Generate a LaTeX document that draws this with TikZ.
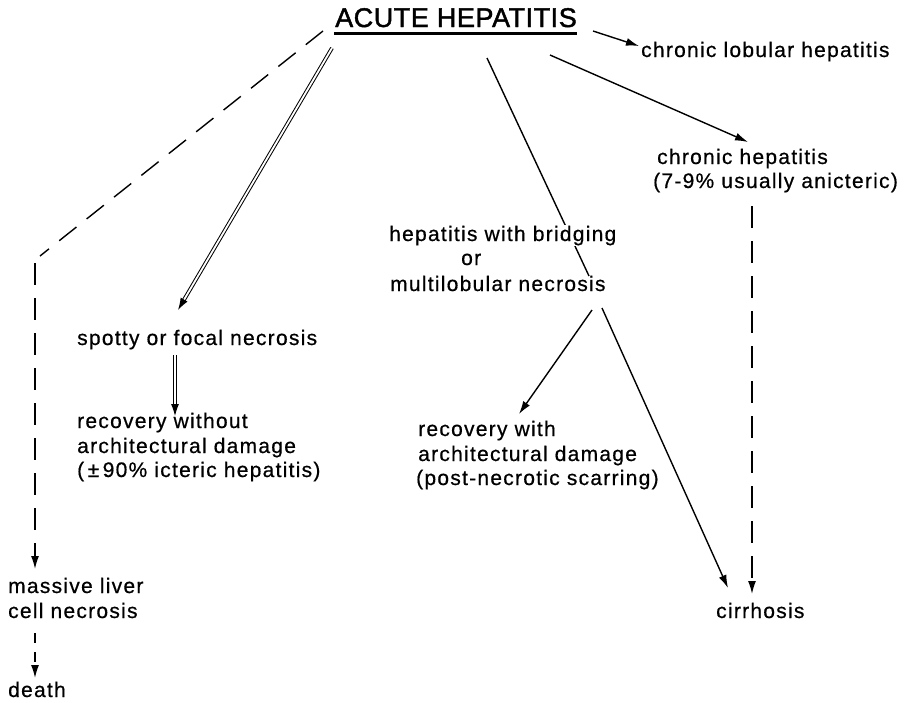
\documentclass[tikz,border=0pt]{standalone}
\usepackage{fontspec}
\usetikzlibrary{arrows.meta}
\newfontfamily\lblfont[LetterSpace=6,FakeBold=0.6]{Liberation Sans}
\newfontfamily\ttlfont[LetterSpace=2,FakeBold=1.6]{Liberation Sans}
\begin{document}
\begin{tikzpicture}[x=1pt,y=-1pt,
  lbl/.style={anchor=base west, inner sep=0pt, font=\lblfont\fontsize{21}{25}\selectfont},
  conn/.style={line width=1.4pt},
  tip/.style={-{Latex[length=13pt,width=8pt]}},
  dsh/.style={conn, dash pattern=on 22pt off 13pt},
  dbl/.style={double, double distance=1.8pt, line width=1pt, -{Latex[length=12pt,width=8pt]}}]
\useasboundingbox (0,0) rectangle (904,702);
% nodes
\node[anchor=base, inner sep=0pt, font=\ttlfont\fontsize{27}{30}\selectfont] (title) at (456,27) {ACUTE HEPATITIS};
\node[lbl] (lobular) at (641,57) {chronic lobular hepatitis};
\node[lbl] (chronic1) at (657,164) {chronic hepatitis};
\node[lbl] (chronic2) at (653,188) {(7-9\% usually anicteric)};
\node[lbl] (spotty) at (77,345) {spotty or focal necrosis};
\node[lbl] (recw1) at (77,428) {recovery without};
\node[lbl] (recw2) at (77,453) {architectural damage};
\node[lbl] (recw3) at (77,477) {(\,±\,90\% icteric hepatitis)};
\node[lbl] (mass1) at (8,593) {massive liver};
\node[lbl] (mass2) at (8,618) {cell necrosis};
\node[lbl] (death) at (8,697) {death};
\node[lbl] (rec1) at (418,436) {recovery with};
\node[lbl] (rec2) at (418,461) {architectural damage};
\node[lbl] (rec3) at (416,485) {(post-necrotic scarring)};
\node[lbl] (cirr) at (716,618) {cirrhosis};
\node[lbl] (or) at (461,265) {or};
\node[lbl] (multi) at (390,291) {multilobular necrosis};
% underline
\draw[line width=2.8pt] (title.south west) ++(-1,6) coordinate (ul1) -- (title.south east |- ul1) coordinate (ul2);
% coordinates
\coordinate (dStart) at (323,31);
\coordinate (corner) at (40,256);
\coordinate (massTop) at (35,569);
\coordinate (massBot) at (35,633);
\coordinate (deathTop) at (35,678);
\coordinate (vStart) at (35,263);
\coordinate (sStart) at (332,48);
\coordinate (sEnd) at (178,310);
\coordinate (s2Start) at (175,355);
\coordinate (s2End) at (175,416);
\coordinate (lStart) at (593,31);
\coordinate (lEnd) at (639,46);
\coordinate (cStart) at (550,55);
\coordinate (cEnd) at (748,142);
\coordinate (bStart) at (487,58);
\coordinate (bEnd) at (589,276);
\coordinate (c2Start) at (752,206);
\coordinate (c2End) at (752,594);
\coordinate (m1) at (592,310);
\coordinate (m1End) at (519,414);
\coordinate (m2) at (602,308);
\coordinate (m2End) at (728,588);
% connectors
\draw[dsh] (dStart) -- (corner);
\draw[dsh, tip] (vStart) -- (massTop);
\draw[conn, dash pattern=on 10pt off 9pt, tip] (massBot) -- (deathTop);
\draw[dbl] (sStart) -- (sEnd);
\draw[dbl] (s2Start) -- (s2End);
\draw[conn, tip] (lStart) -- (lEnd);
\draw[conn, tip] (cStart) -- (cEnd);
\draw[conn] (bStart) -- (bEnd);
\node[lbl, fill=white, inner sep=1pt] (bridge) at (388,241) {hepatitis with bridging};
\draw[dsh, tip] (c2Start) -- (c2End);
\draw[conn, tip] (m1) -- (m1End);
\draw[conn, tip] (m2) -- (m2End);
\end{tikzpicture}
\end{document}
